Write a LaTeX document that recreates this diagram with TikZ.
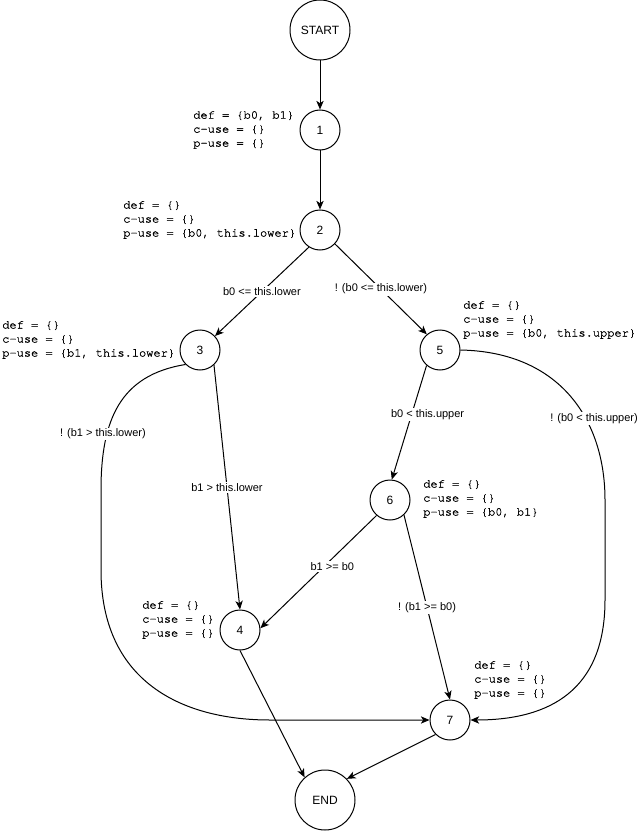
\documentclass[tikz,border=0pt]{standalone}
\usepackage{fontspec}
\setmainfont{Liberation Sans}
\newfontfamily\codefont{texgyrecursor-regular.otf}[FakeBold=1.2]
\usetikzlibrary{arrows.meta}
\begin{document}
\begin{tikzpicture}[x=0.75pt,y=-0.75pt]
    \tikzstyle{every node} = [font=\fontsize{9}{10.5}\selectfont]
    \tikzstyle{state} = [draw, circle, line width=0.75pt, minimum size=30pt, inner sep=0pt]
    \tikzstyle{terminal} = [state, minimum size=45pt]
    \tikzstyle{usage} = [anchor=west, align=left, inner sep=0pt, font=\codefont\fontsize{9}{10.5}\selectfont]
    \tikzstyle{cond} = [fill=white, inner sep=1pt, font=\fontsize{8.25}{9}\selectfont]
    \tikzstyle{flow} = [-{Stealth[length=6.5pt,width=5.5pt,inset=1.8pt]}, line width=0.75pt]
    \useasboundingbox (0,0) rectangle (641,831);
    % place nodes
    \node[terminal](startNode) at (320,30){START};
    \node[state](node1) at (320,130){1};
    \node[state](node2) at (320,230){2};
    \node[state](node3) at (200,350){3};
    \node[state](node5) at (440,350){5};
    \node[state](node6) at (390,500){6};
    \node[state](node4) at (240,630){4};
    \node[state](node7) at (450,720){7};
    \node[terminal](endNode) at (325,800){END};

    % def/use sets
    \node[usage](defUse1) at (193,130){def = \{b0, b1\}\\c-use = \{\}\\p-use = \{\}};
    \node[usage](defUse2) at (123,220){def = \{\}\\c-use = \{\}\\p-use = \{b0, this.lower\}};
    \node[usage](defUse3) at (2,340){def = \{\}\\c-use = \{\}\\p-use = \{b1, this.lower\}};
    \node[usage](defUse5) at (463,320){def = \{\}\\c-use = \{\}\\p-use = \{b0, this.upper\}};
    \node[usage](defUse6) at (423,499){def = \{\}\\c-use = \{\}\\p-use = \{b0, b1\}};
    \node[usage](defUse4) at (142,620){def = \{\}\\c-use = \{\}\\p-use = \{\}};
    \node[usage](defUse7) at (474,680){def = \{\}\\c-use = \{\}\\p-use = \{\}};

    % Connections
    \draw[flow] (startNode) -- (node1);
    \draw[flow] (node1) -- (node2);
    \draw[flow]
    (node2.237) -- node[cond]{b0 <= this.lower} (node3.43);
    \draw[flow]
    (node2.-43) -- node[cond]{! (b0 <= this.lower)} (node5.130);
    \draw[flow]
    (node3.-47) -- node[cond]{b1 > this.lower} (node4.north);
    \draw[flow]
    (node5.229) -- node[cond,pos=0.43,xshift=12pt]{b0 < this.upper} (node6.85);
    \draw[flow]
    (node6.229) -- node[cond,pos=0.45,xshift=6pt]{b1 >= b0} (node4.5);
    \draw[flow]
    (node6.-47) -- node[cond]{! (b1 >= b0)} (node7.north);
    \draw[flow]
    (node3.225) .. controls (120,375) and (101,420) .. node[cond,pos=0.7,xshift=-3pt]{! (b1 > this.lower)} (101,490)
    -- (101,570) .. controls (101,680) and (180,720) .. (270,720) -- (node7.west);
    \draw[flow]
    (node5.east) .. controls (560,352) and (605,420) .. node[cond,pos=0.63,xshift=6pt]{! (b0 < this.upper)} (605,500)
    -- (605,600) .. controls (605,690) and (550,720) .. (node7.east);
    \draw[flow] (node4.south) -- (endNode.132);
    \draw[flow] (node7.225) -- (endNode.44);
\end{tikzpicture}
\end{document}
